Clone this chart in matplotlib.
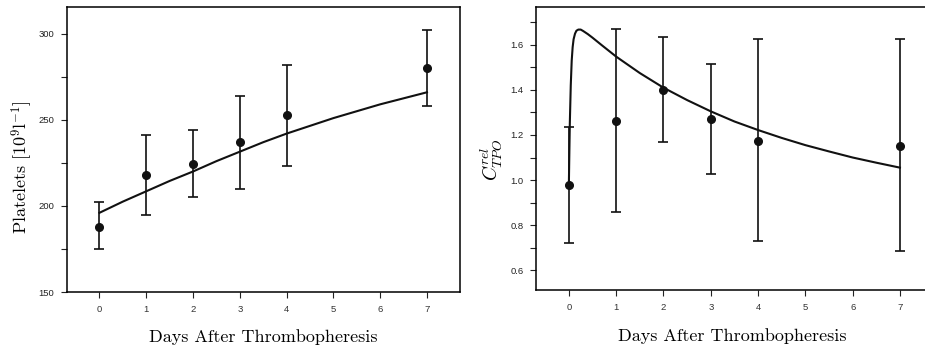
import matplotlib
matplotlib.use("Agg")
from matplotlib import pyplot as plt

# measured platelets (day, mean, low, high)
days = [0, 1, 2, 3, 4, 7]
plt_mean = [188, 218, 224.5, 237, 253, 280]
plt_low = [175, 195, 205, 210, 223, 258]
plt_high = [202, 241, 244, 264, 282, 302]

# model curve for platelets
plt_fit_x = [0, 0.5, 1, 1.5, 2, 2.5, 3, 3.5, 4, 4.5, 5, 5.5, 6, 6.5, 7]
plt_fit_y = [196, 202.5, 208.5, 214.5, 220, 226, 231.5, 237, 242, 246.5, 251, 255, 259, 262.5, 266]

# measured relative TPO
tpo_mean = [0.978, 1.26, 1.40, 1.27, 1.175, 1.15]
tpo_low = [0.72, 0.86, 1.17, 1.025, 0.73, 0.685]
tpo_high = [1.235, 1.67, 1.635, 1.515, 1.625, 1.625]

# model curve for TPO
tpo_fit_x = [0, 0.01, 0.02, 0.04, 0.06, 0.08, 0.1, 0.13, 0.16, 0.2, 0.25, 0.3, 0.4, 0.5,
             0.7, 1, 1.5, 2, 2.5, 3, 3.5, 4, 4.5, 5, 5.5, 6, 6.5, 7]
tpo_fit_y = [0.98, 1.12, 1.25, 1.42, 1.53, 1.59, 1.625, 1.65, 1.663, 1.668, 1.668, 1.662,
             1.648, 1.632, 1.598, 1.548, 1.475, 1.41, 1.355, 1.305, 1.26, 1.222, 1.187,
             1.155, 1.127, 1.10, 1.077, 1.055]

plt.rcParams['mathtext.fontset'] = 'cm'
tick_font = {'family': 'Liberation Sans', 'size': 6.8}
label_font = {'family': 'cmr10', 'size': 13}

fig = plt.figure(figsize=(9.25, 3.53), dpi=100)
ax1 = fig.add_axes([0.0721, 0.1728, 0.4254, 0.8072])
ax2 = fig.add_axes([0.5792, 0.178, 0.4254, 0.802])


def style(ax):
    for s in ax.spines.values():
        s.set_linewidth(1.1)
    ax.tick_params(direction='out', length=4, width=0.8, colors='#222222', pad=5)
    ax.set_xticks(range(0, 8))
    ax.set_xticklabels([str(d) for d in range(0, 8)], **tick_font, color='#333333')


def draw(ax, mean, low, high, fx, fy):
    yerr = [[m - l for m, l in zip(mean, low)], [h - m for m, h in zip(mean, high)]]
    ax.errorbar(days, mean, yerr=yerr, fmt='o', color='#111111', ms=5.5,
                elinewidth=1.2, capsize=3.5, capthick=1.2)
    ax.plot(fx, fy, color='#111111', lw=1.5)


draw(ax1, plt_mean, plt_low, plt_high, plt_fit_x, plt_fit_y)
ax1.set_xlim(-0.7, 7.71)
ax1.set_ylim(150, 315.5)
ax1.set_yticks([150, 175, 200, 225, 250, 275, 300])
ax1.set_yticklabels(['150', '', '200', '', '250', '', '300'], **tick_font, color='#333333')
style(ax1)
ax1.set_xlabel('Days After Thrombopheresis', **label_font, labelpad=11)
ax1.set_ylabel(r'Platelets $[10^9\mathrm{l}^{-1}]$', **label_font)
ax1.yaxis.set_label_coords(-0.081, 0.44)

draw(ax2, tpo_mean, tpo_low, tpo_high, tpo_fit_x, tpo_fit_y)
ax2.set_xlim(-0.7, 7.62)
ax2.set_ylim(0.511, 1.768)
ax2.set_yticks([0.6, 0.7, 0.8, 0.9, 1.0, 1.1, 1.2, 1.3, 1.4, 1.5, 1.6, 1.7])
ax2.set_yticklabels(['0.6', '', '0.8', '', '1.0', '', '1.2', '', '1.4', '', '1.6', ''],
                    **tick_font, color='#333333')
style(ax2)
ax2.set_xlabel('Days After Thrombopheresis', **label_font, labelpad=12)
ax2.set_ylabel(r'$C^{rel}_{TPO}$', fontsize=14)
ax2.yaxis.set_label_coords(-0.078, 0.46)

fig.savefig('out.png', dpi=100)
